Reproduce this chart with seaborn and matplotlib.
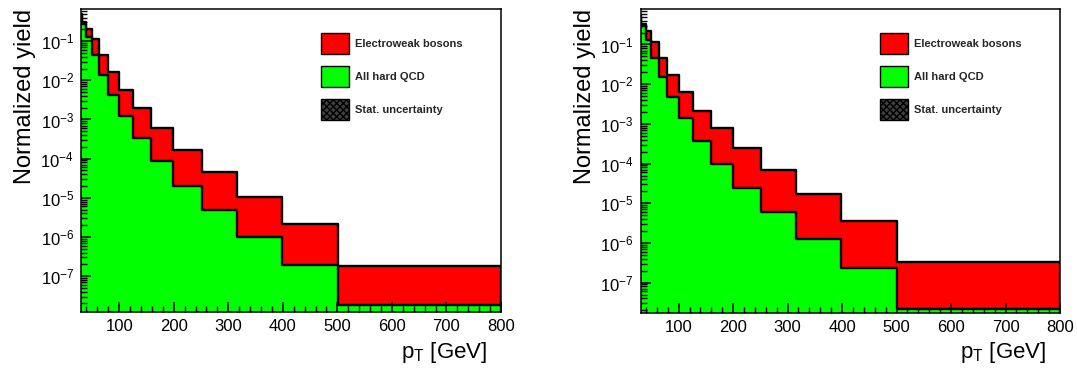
import numpy as np
import pandas as pd
import matplotlib
matplotlib.use("Agg")
import matplotlib.pyplot as plt
from matplotlib.patches import Patch
from matplotlib.ticker import MultipleLocator, LogLocator, FixedLocator
import seaborn as sns

# ---- data ----
bin_edges = [25.1, 31.6, 39.8, 50.1, 63.1, 79.4, 100.0, 125.9, 158.5,
             199.5, 251.2, 316.2, 398.1, 501.2, 800.0]

qcd_left = [0.45, 0.27, 0.127, 0.044, 0.0137, 0.0042, 0.0012, 3.3e-4,
            8.5e-5, 2.0e-5, 4.8e-6, 1.0e-6, 1.9e-7, 1.8e-8]
ewk_left = [0.05, 0.03, 0.083, 0.067, 0.0303, 0.0124, 0.0046, 0.0016,
            5.25e-4, 1.5e-4, 4.02e-5, 9.3e-6, 1.91e-6, 1.62e-7]

qcd_right = [0.50, 0.30, 0.13, 0.046, 0.0148, 0.0047, 0.00137, 3.7e-4,
             1.0e-4, 2.4e-5, 5.9e-6, 1.23e-6, 2.4e-7, 2.2e-8]
ewk_right = [0.05, 0.03, 0.09, 0.071, 0.0312, 0.0119, 0.00483, 0.00178,
             6.7e-4, 2.21e-4, 6.2e-5, 1.62e-5, 3.36e-6, 3.08e-7]

ylims = [(1.19e-8, 0.65), (1.75e-8, 0.77)]
x_range = (30, 800)
x_major_ticks = [100, 200, 300, 400, 500, 600, 700, 800]
legend_labels = ["Electroweak bosons", "All hard QCD", "Stat. uncertainty"]
ylabel = "Normalized yield"
xlabel = "$p_{T}$ [GeV]"

# ---- style ----
sns.set_theme(style="white")
plt.rcParams["font.family"] = ["Liberation Sans", "DejaVu Sans"]
plt.rcParams["mathtext.default"] = "regular"
plt.rcParams["axes.unicode_minus"] = True

fig = plt.figure(figsize=(10.77, 3.69), dpi=100)
ax_rects = [
    [81 / 1077, (369 - 312.3) / 369, 420 / 1077, 303 / 369],
    [640.5 / 1077, (369 - 312.7) / 369, 419.5 / 1077, 303.4 / 369],
]

centers = [0.5 * (a + b) for a, b in zip(bin_edges[:-1], bin_edges[1:])]
RED = "#ff0000"
GREEN = "#00ff00"

for rect, qcd, ewk, ylim in zip(ax_rects, [qcd_left, qcd_right],
                                [ewk_left, ewk_right], ylims):
    ax = fig.add_axes(rect)
    ax.set_yscale("log")
    total = [q + e for q, e in zip(qcd, ewk)]
    df = pd.DataFrame({"pt": centers, "total": total, "qcd": qcd})
    sns.histplot(data=df, x="pt", weights="total", bins=bin_edges,
                 element="step", fill=True, color=RED, alpha=1.0,
                 edgecolor="black", linewidth=1.7, ax=ax)
    sns.histplot(data=df, x="pt", weights="qcd", bins=bin_edges,
                 element="step", fill=True, color=GREEN, alpha=1.0,
                 edgecolor="black", linewidth=1.7, ax=ax)
    ax.set_xlim(*x_range)
    ax.set_ylim(*ylim)
    ax.set_axisbelow(False)

    for sp in ax.spines.values():
        sp.set_color("black")
        sp.set_linewidth(1.1)
        sp.set_zorder(5)

    ax.xaxis.set_major_locator(FixedLocator(x_major_ticks))
    ax.xaxis.set_minor_locator(MultipleLocator(20))
    ax.yaxis.set_major_locator(LogLocator(base=10, numticks=20))
    ax.yaxis.set_minor_locator(LogLocator(base=10, subs=np.arange(2, 10), numticks=20))
    ax.tick_params(axis="both", which="major", direction="in", length=7,
                   width=1.1, color="black", labelsize=12, pad=5,
                   bottom=True, left=True, top=False, right=False,
                   labelcolor="black")
    ax.tick_params(axis="both", which="minor", direction="in", length=4,
                   width=1.0, color="black", bottom=True, left=True,
                   top=False, right=False)

    ax.set_ylabel(ylabel, fontsize=17, loc="top", color="black")
    ax.yaxis.set_label_coords(-0.107, 1.0)
    ax.set_xlabel(xlabel, fontsize=16, loc="right", color="black")
    ax.xaxis.set_label_coords(0.967, -0.09)
    ax.xaxis.label.set_va("top")

    handles = [
        Patch(facecolor=RED, edgecolor="black", linewidth=1.0),
        Patch(facecolor=GREEN, edgecolor="black", linewidth=1.0),
        Patch(facecolor="0.25", edgecolor="black", hatch="xxxxx", linewidth=1.0),
    ]
    leg = ax.legend(handles, legend_labels, loc="upper left",
                    bbox_to_anchor=(0.571, 0.922), frameon=False,
                    prop={"size": 8, "weight": "bold"},
                    handlelength=2.55, handleheight=2.6, labelspacing=1.02,
                    handletextpad=0.55, borderpad=0, borderaxespad=0)

fig.savefig("out.png", dpi=100)
